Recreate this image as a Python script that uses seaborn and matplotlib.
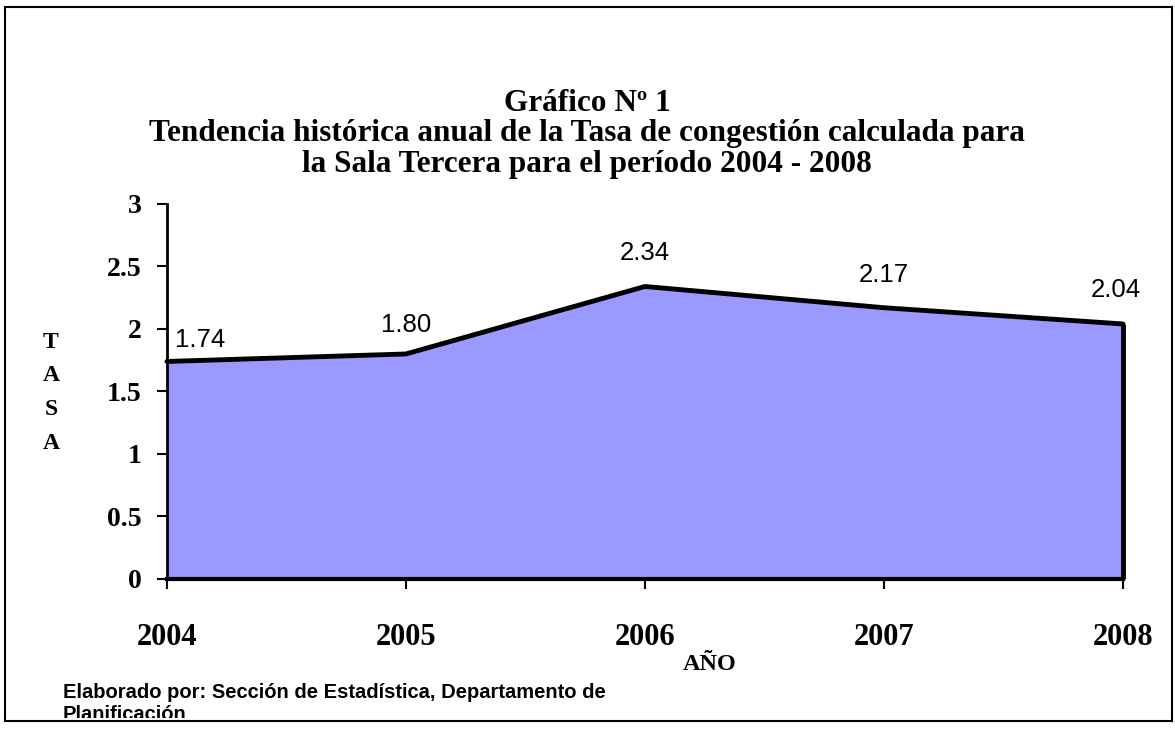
import numpy as np
import pandas as pd
import matplotlib
matplotlib.use("Agg")
import matplotlib.pyplot as plt
import seaborn as sns
from matplotlib.patches import Rectangle

# datos
years = [2004, 2005, 2006, 2007, 2008]
tasa = [1.74, 1.80, 2.34, 2.17, 2.04]
labels = ["1.74", "1.80", "2.34", "2.17", "2.04"]
yticks = [0, 0.5, 1, 1.5, 2, 2.5, 3]
ytick_labels = ["0", "0.5", "1", "1.5", "2", "2.5", "3"]

title = ("Gráfico Nº 1\n"
         "Tendencia histórica anual de la Tasa de congestión calculada para\n"
         "la Sala Tercera para el período 2004 - 2008")
footer = "Elaborado por: Sección de Estadística, Departamento de\nPlanificación"

df = pd.DataFrame({"year": years, "tasa": tasa})

sns.set_style("white")
plt.rcParams["font.family"] = ["Liberation Serif", "DejaVu Serif"]
plt.rcParams["text.color"] = "black"
plt.rcParams["xtick.color"] = "black"
plt.rcParams["ytick.color"] = "black"

fig = plt.figure(figsize=(11.75, 7.29), dpi=100)
ax = fig.add_axes([0.1421, 0.2058, 0.8136, 0.5144])

# area + contorno
ax.fill_between(df.year, 0, df.tasa, color="#9999FF", zorder=1)
sns.lineplot(data=df, x="year", y="tasa", color="black", lw=3.5, ax=ax,
             zorder=3, clip_on=False)
ax.vlines(years[-1], 0, tasa[-1], color="black", lw=3.5, zorder=3, clip_on=False)

# etiquetas de datos
offs = [(33, 21), (0, 29), (0, 33), (0, 33), (-7, 34)]
for x, y, lab, (dx, dy) in zip(years, tasa, labels, offs):
    ax.annotate(lab, (x, y), xytext=(dx, dy), textcoords="offset pixels",
                ha="center", va="center", fontsize=18.5,
                family=["Liberation Sans", "DejaVu Sans"])

ax.set_xlim(2004, 2008)
ax.set_ylim(0, 3)
ax.set_xticks(years)
ax.set_xticklabels([str(y) for y in years], fontsize=22, fontweight="bold")
ax.set_yticks(yticks)
ax.set_yticklabels(ytick_labels, fontsize=20, fontweight="bold")
ax.tick_params(axis="both", direction="out", length=7.5, width=1.5, color="black",
               left=True, bottom=True)
ax.tick_params(axis="x", pad=24)
ax.tick_params(axis="y", pad=11)
ax.set_xlabel("")
ax.set_ylabel("")

for s in ["top", "right"]:
    ax.spines[s].set_visible(False)
ax.spines["left"].set_linewidth(2)
ax.spines["left"].set_color("black")
ax.spines["bottom"].set_linewidth(3)
ax.spines["bottom"].set_color("black")

# titulo y rotulos
fig.text(0.4996, 1 - 134 / 729, title, ha="center", va="center", fontsize=22.5,
         fontweight="bold", linespacing=1.06)
fig.text(710 / 1175, 1 - 665 / 729, "AÑO", ha="center", va="center",
         fontsize=17.5, fontweight="bold")
for i, ch in enumerate("TASA"):
    fig.text(51 / 1175, 1 - (342 + i * 33.7) / 729, ch, ha="center", va="center",
             fontsize=17, fontweight="bold")

fig.text(63 / 1175, 1 - 683 / 729, footer, ha="left", va="top", fontsize=14.5,
         fontweight="bold", family=["Liberation Sans", "DejaVu Sans"],
         linespacing=1.22)

# recorte inferior y marco
fig.patches.append(Rectangle((0, 0), 1, 1 - 718 / 729, transform=fig.transFigure,
                             facecolor="white", edgecolor="none", zorder=10))
fig.patches.append(Rectangle((5 / 1175, 1 - 721 / 729), 1167 / 1175, 714 / 729,
                             transform=fig.transFigure, facecolor="none",
                             edgecolor="black", lw=1.5, zorder=11))

fig.savefig("out.png", dpi=100)
